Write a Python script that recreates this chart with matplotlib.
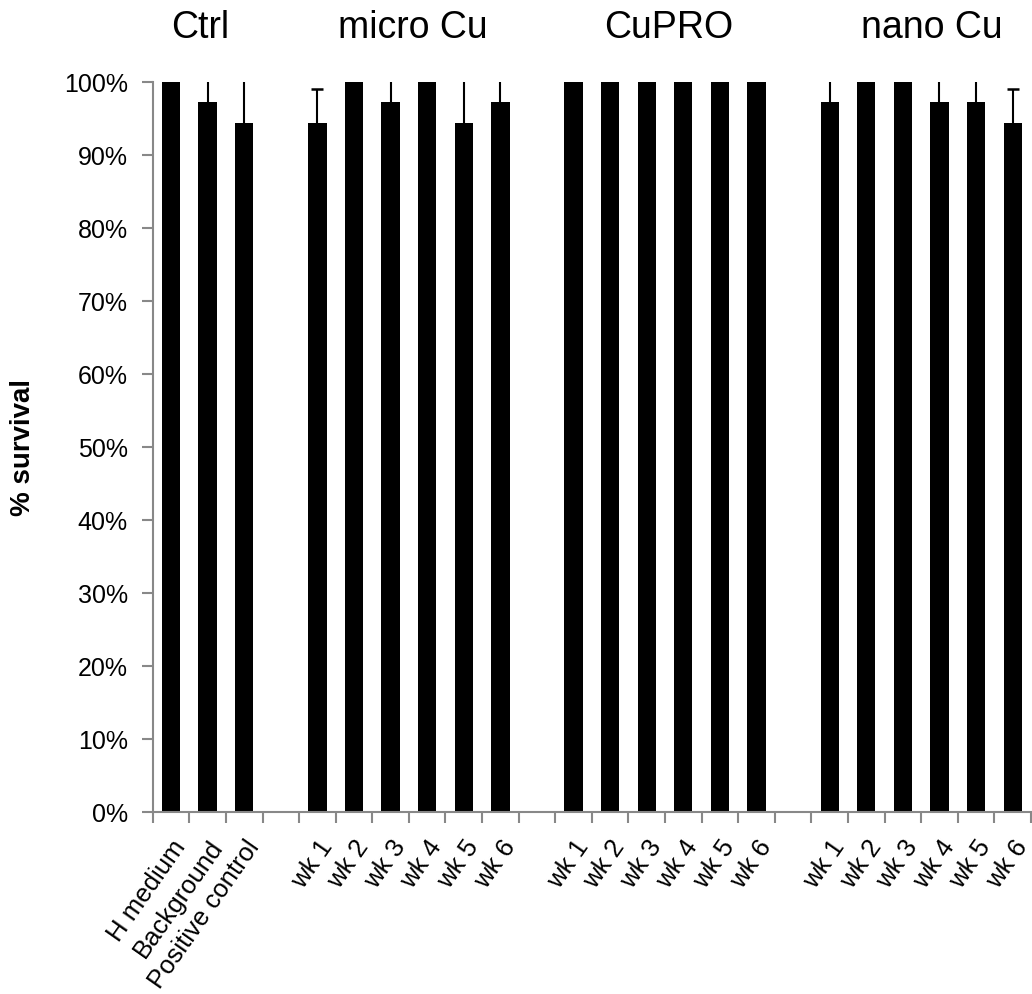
import numpy as np
import matplotlib.pyplot as plt
from matplotlib.ticker import PercentFormatter

plt.rcParams['font.family'] = ['Liberation Sans', 'DejaVu Sans']

# groups and their categories
groups = ['Ctrl', 'micro Cu', 'CuPRO', 'nano Cu']
group_labels = [
    ['H medium', 'Background', 'Positive control'],
    ['wk 1', 'wk 2', 'wk 3', 'wk 4', 'wk 5', 'wk 6'],
    ['wk 1', 'wk 2', 'wk 3', 'wk 4', 'wk 5', 'wk 6'],
    ['wk 1', 'wk 2', 'wk 3', 'wk 4', 'wk 5', 'wk 6'],
]
# % survival per group
ctrl = [100, 97.2, 94.4]
micro_cu = [94.4, 100, 97.2, 100, 94.4, 97.2]
cupro = [100, 100, 100, 100, 100, 100]
nano_cu = [97.2, 100, 100, 97.2, 97.2, 94.4]
# upper error (bars running past 100% are clipped by the axis)
ctrl_err = [0, 4.8, 9.6]
micro_cu_err = [4.6, 0, 4.8, 0, 9.6, 4.8]
cupro_err = [0, 0, 0, 0, 0, 0]
nano_cu_err = [4.8, 0, 0, 4.8, 4.8, 4.6]

values = [ctrl, micro_cu, cupro, nano_cu]
errors = [ctrl_err, micro_cu_err, cupro_err, nano_cu_err]

# lay out categories with one empty slot between groups
pos, vals, errs, labels = [], [], [], []
p = 0
for g in range(len(groups)):
    for lab, v, e in zip(group_labels[g], values[g], errors[g]):
        pos.append(p)
        vals.append(v)
        errs.append(e)
        labels.append(lab)
        p += 1
    p += 1
n_slots = p - 1
pos = np.array(pos)
vals = np.array(vals)
errs = np.array(errs)

fig = plt.figure(figsize=(10.32, 9.94), dpi=100)
ax = fig.add_axes([0.148, 0.183, 0.851, 0.7345])

ax.bar(pos, vals, width=0.5, color='black', zorder=2)

# plus-only error bars, caps only where they fall inside the plot
has_err = errs > 0
ax.vlines(pos[has_err], vals[has_err], vals[has_err] + errs[has_err],
          color='black', lw=1.5, zorder=3)
ax.plot(pos[has_err], vals[has_err] + errs[has_err], ls='none', marker='_',
        ms=9, mew=1.8, color='black', zorder=3)

ax.set_xlim(-0.5, n_slots - 0.5)
ax.set_ylim(0, 100)
ax.yaxis.set_major_formatter(PercentFormatter(decimals=0))
ax.set_yticks(np.arange(0, 101, 10))

# ticks between categories, labels at category centres
ax.set_xticks(np.arange(-0.5, n_slots, 1.0))
ax.set_xticklabels([])
ax.set_xticks(pos, minor=True)
ax.set_xticklabels(labels, minor=True, rotation=55, ha='right', va='top',
                   rotation_mode='anchor', fontsize=18.5)
ax.tick_params(axis='x', which='minor', length=0, pad=17)
ax.tick_params(axis='x', which='major', length=8, width=1.5, color='#888888', direction='out')
ax.tick_params(axis='y', length=8, width=1.5, color='#888888', labelsize=18, pad=10)

for s in ['top', 'right']:
    ax.spines[s].set_visible(False)
for s in ['left', 'bottom']:
    ax.spines[s].set_color('#888888')
    ax.spines[s].set_linewidth(1.5)

ax.set_ylabel('% survival', fontsize=20, fontweight='bold', labelpad=20)

# group titles above the plot
title_x = [0.8, 6.6, 13.6, 20.8]
for name, tx in zip(groups, title_x):
    ax.text(tx, 107.4, name, ha='center', va='center', fontsize=27, clip_on=False)

fig.savefig('out.png', dpi=100)
